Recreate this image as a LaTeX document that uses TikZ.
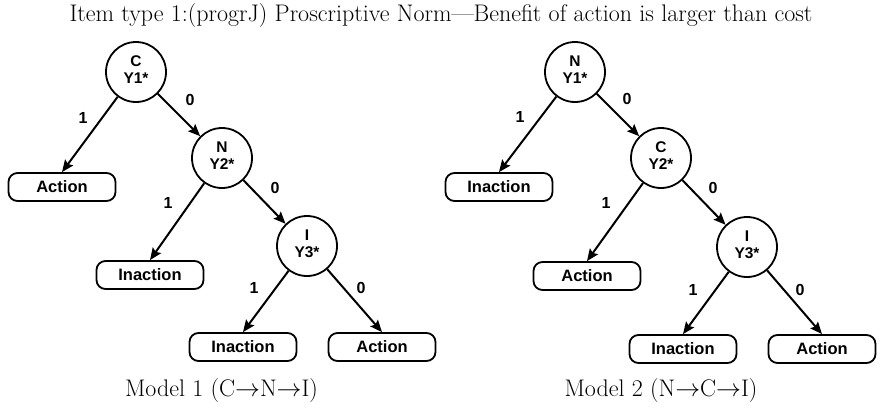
\documentclass[tikz,border=0pt]{standalone}
\usepackage{fontspec}
\setsansfont{Liberation Sans}
\usetikzlibrary{arrows.meta}
\begin{document}
\begin{tikzpicture}[x=1pt,y=-1pt,
  st/.style={circle,draw,line width=1.8pt,minimum size=60pt,inner sep=0pt},
  sttext/.style={font=\sffamily\bfseries\fontsize{15.5}{18}\selectfont,inner sep=0pt,anchor=base},
  leaf/.style={draw,line width=1.8pt,rounded corners=9pt,minimum width=107pt,minimum height=28pt,inner sep=0pt,font=\sffamily\bfseries\fontsize{16.5}{18}\selectfont},
  lbl/.style={font=\sffamily\bfseries\fontsize{16}{18}\selectfont,inner sep=0pt},
  arr/.style={line width=2pt,-{Stealth[length=12pt,width=10pt,inset=2pt]}},
  captxt/.style={font=\fontsize{24}{28}\selectfont,inner sep=0pt,anchor=base}
]
\useasboundingbox (0,0) rectangle (884,408);

\node[captxt] (title) at (441,21) {Item type 1:(progrJ) Proscriptive Norm---Benefit of action is larger than cost};

% ---------- Model 1 ----------
\node[st] (C1) at (136,72) {};
\node[sttext] (C1a) at (136,66) {C};
\node[sttext] (C1b) at (136,83) {Y1*};
\node[st] (N1) at (222,158) {};
\node[sttext] (N1a) at (222,152) {N};
\node[sttext] (N1b) at (222,169) {Y2*};
\node[st] (I1) at (307,246) {};
\node[sttext] (I1a) at (307,240) {I};
\node[sttext] (I1b) at (307,257) {Y3*};

\node[leaf] (A1) at (62,187) {Action};
\node[leaf] (B1) at (150,275) {Inaction};
\node[leaf] (B1b) at (243,347) {Inaction};
\node[leaf] (A1b) at (382,347) {Action};

\draw[arr] (C1) -- (A1.north);
\draw[arr] (C1) -- (N1);
\draw[arr] (N1) -- (B1.north);
\draw[arr] (N1) -- (I1);
\draw[arr] (I1) -- (B1b.north);
\draw[arr] (I1) -- (A1b.north);

\node[lbl] (l11) at (83,118) {1};
\node[lbl] (l10) at (190,100) {0};
\node[lbl] (l21) at (168,203) {1};
\node[lbl] (l20) at (275,188) {0};
\node[lbl] (l31) at (254,288) {1};
\node[lbl] (l30) at (361,288) {0};

\node[captxt] (cap1) at (221.5,396) {Model 1 (C$\rightarrow$N$\rightarrow$I)};

% ---------- Model 2 ----------
\node[st] (N2) at (575,72) {};
\node[sttext] (N2a) at (575,66) {N};
\node[sttext] (N2b) at (575,83) {Y1*};
\node[st] (C2) at (661,158) {};
\node[sttext] (C2a) at (661,152) {C};
\node[sttext] (C2b) at (661,169) {Y2*};
\node[st] (I2) at (747,247) {};
\node[sttext] (I2a) at (747,241) {I};
\node[sttext] (I2b) at (747,258) {Y3*};

\node[leaf] (B2) at (499,187) {Inaction};
\node[leaf] (A2) at (587,276) {Action};
\node[leaf] (B2b) at (683,349) {Inaction};
\node[leaf] (A2b) at (822,349) {Action};

\draw[arr] (N2) -- (B2.north);
\draw[arr] (N2) -- (C2);
\draw[arr] (C2) -- (A2.north);
\draw[arr] (C2) -- (I2);
\draw[arr] (I2) -- (B2b.north);
\draw[arr] (I2) -- (A2b.north);

\node[lbl] (m11) at (520,117) {1};
\node[lbl] (m10) at (627,99) {0};
\node[lbl] (m21) at (606,203) {1};
\node[lbl] (m20) at (713,188) {0};
\node[lbl] (m31) at (693,290) {1};
\node[lbl] (m30) at (800,290) {0};

\node[captxt] (cap2) at (661,396) {Model 2 (N$\rightarrow$C$\rightarrow$I)};
\end{tikzpicture}
\end{document}
